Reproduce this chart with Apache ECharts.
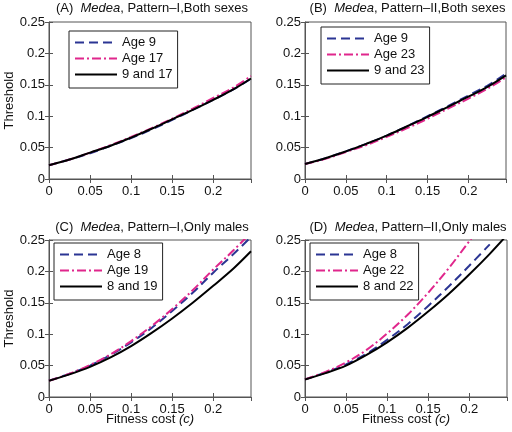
<!DOCTYPE html>
<html><head><meta charset="utf-8">
<script src="https://cdn.jsdelivr.net/npm/echarts@6/dist/echarts.min.js"></script>
<style>html,body{margin:0;padding:0;background:#fff}#c{width:512px;height:432px}</style>
</head><body><div id="c"></div>
<script>
// Fitness cost sample positions
var cost = [0, 0.025, 0.05, 0.075, 0.1, 0.125, 0.15, 0.175, 0.2, 0.225, 0.246];
var yTicks = [0, 0.05, 0.1, 0.15, 0.2, 0.25];
var xTicks = [0, 0.05, 0.1, 0.15, 0.2];

// Panel A: Medea, Pattern-I, Both sexes
var A_names = ['Age 9', 'Age 17', '9 and 17'];
var A_age9  = [0.022, 0.031, 0.041, 0.053, 0.065, 0.079, 0.094, 0.110, 0.126, 0.143, 0.160];
var A_age17 = [0.022, 0.031, 0.042, 0.054, 0.067, 0.081, 0.096, 0.112, 0.129, 0.146, 0.164];
var A_both  = [0.022, 0.031, 0.042, 0.053, 0.066, 0.080, 0.095, 0.110, 0.126, 0.143, 0.160];

// Panel B: Medea, Pattern-II, Both sexes
var B_names = ['Age 9', 'Age 23', '9 and 23'];
var B_age9  = [0.024, 0.033, 0.044, 0.056, 0.069, 0.084, 0.100, 0.116, 0.133, 0.150, 0.168];
var B_age23 = [0.024, 0.032, 0.043, 0.054, 0.067, 0.081, 0.096, 0.112, 0.128, 0.145, 0.162];
var B_both  = [0.024, 0.033, 0.044, 0.056, 0.069, 0.084, 0.099, 0.115, 0.131, 0.148, 0.165];

// Panel C: Medea, Pattern-I, Only males
var C_names = ['Age 8', 'Age 19', '8 and 19'];
var C_age8  = [0.026, 0.037, 0.050, 0.067, 0.087, 0.110, 0.137, 0.166, 0.198, 0.228, 0.255];
var C_age19 = [0.026, 0.037, 0.051, 0.068, 0.089, 0.113, 0.140, 0.170, 0.203, 0.234, 0.262];
var C_both  = [0.026, 0.036, 0.048, 0.063, 0.081, 0.102, 0.125, 0.150, 0.177, 0.205, 0.232];

// Panel D: Medea, Pattern-II, Only males
var D_names = ['Age 8', 'Age 22', '8 and 22'];
var D_age8  = [0.028, 0.039, 0.052, 0.069, 0.091, 0.116, 0.145, 0.176, 0.209, 0.243];
var D_age22 = [0.028, 0.040, 0.055, 0.075, 0.101, 0.131, 0.166, 0.205, 0.248, 0.292];
var D_both  = [0.028, 0.038, 0.050, 0.067, 0.087, 0.110, 0.136, 0.164, 0.195, 0.228, 0.258];

var panels = [
  {tag:'(A)', rest:', Pattern\u2013I,Both sexes', names:A_names, s:[A_age9, A_age17, A_both], xName:false, yName:true},
  {tag:'(B)', rest:', Pattern\u2013II,Both sexes', names:B_names, s:[B_age9, B_age23, B_both], xName:false, yName:false},
  {tag:'(C)', rest:', Pattern\u2013I,Only males', names:C_names, s:[C_age8, C_age19, C_both], xName:true, yName:true},
  {tag:'(D)', rest:', Pattern\u2013II,Only males', names:D_names, s:[D_age8, D_age22, D_both], xName:true, yName:false}
];

var grids = [
  {left:49, top:22, width:202, height:157},
  {left:305, top:22, width:201, height:157},
  {left:49, top:240, width:202, height:157},
  {left:305, top:240, width:202, height:157}
];
var legendPos = [[69,31],[321,27],[54,243],[310,243]];
var styles = [
  {color:'#2b3593', type:[9,5]},
  {color:'#e0268c', type:[9,3,2,3]},
  {color:'#000000', type:'solid'}
];

var FONT = 'Liberation Sans, Arial, Helvetica, sans-serif';
var xAxes = [], yAxes = [], series = [], legends = [], graphics = [];

function fmt(v){ return String(Math.round(v*1000)/1000); }

panels.forEach(function(p, i){
  var g = grids[i];
  g.show = true; g.borderColor = '#555'; g.borderWidth = 1; g.backgroundColor = 'transparent';
  xAxes.push({
    type:'value', gridIndex:i, min:0, max:0.246, interval:0.05, position:'bottom',
    axisLine:{show:true, lineStyle:{color:'#555'}},
    axisTick:{show:true, inside:true, length:4, lineStyle:{color:'#555'}},
    axisLabel:{color:'#111', fontSize:13, fontFamily:FONT, margin:6, showMaxLabel:false, formatter:fmt},
    splitLine:{show:false},
    name: p.xName ? 'Fitness cost {i|(c)}' : '',
    nameLocation:'middle', nameGap:16, nameMoveOverlap:false,
    nameTextStyle:{color:'#111', fontSize:13, fontFamily:FONT, rich:{i:{fontStyle:'italic', fontSize:13, fontFamily:FONT, color:'#111'}}}
  });
  xAxes.push({
    type:'value', gridIndex:i, min:0, max:0.246, interval:0.05, position:'top',
    axisLine:{show:false}, axisTick:{show:true, inside:true, length:4, lineStyle:{color:'#555'}},
    axisLabel:{show:false}, splitLine:{show:false}
  });
  yAxes.push({
    type:'value', gridIndex:i, min:0, max:0.25, interval:0.05, position:'left',
    axisLine:{show:true, lineStyle:{color:'#555'}},
    axisTick:{show:true, inside:true, length:4, lineStyle:{color:'#555'}},
    axisLabel:{color:'#111', fontSize:13, fontFamily:FONT, margin:4, formatter:fmt},
    splitLine:{show:false},
    name: p.yName ? 'Threshold' : '',
    nameLocation:'middle', nameGap:33,
    nameTextStyle:{color:'#111', fontSize:13, fontFamily:FONT}
  });
  yAxes.push({
    type:'value', gridIndex:i, min:0, max:0.25, interval:0.05, position:'right',
    axisLine:{show:false}, axisTick:{show:true, inside:true, length:4, lineStyle:{color:'#555'}},
    axisLabel:{show:false}, splitLine:{show:false}
  });
  p.s.forEach(function(vals, k){
    var data = vals.map(function(v, j){ return [cost[j], v]; });
    series.push({
      type:'line', id:'p'+i+'s'+k, name:p.names[k], xAxisIndex:2*i, yAxisIndex:2*i,
      data:data, smooth:0.35, symbol:'none', clip:true,
      lineStyle:{color:styles[k].color, width:2, type:styles[k].type},
      itemStyle:{color:styles[k].color},
      z: k===2 ? 3 : 2
    });
  });
  legends.push({
    data: p.names.map(function(n){ return {name:n}; }),
    orient:'vertical', left:legendPos[i][0], top:legendPos[i][1],
    itemWidth:42, itemHeight:14, itemGap:3, padding:[5,5,7,5],
    borderColor:'#222', borderWidth:1, backgroundColor:'#fff',
    selectedMode:false, textStyle:{color:'#111', fontSize:13, fontFamily:FONT},
    itemStyle:{opacity:0}
  });
  var cx = g.left + g.width/2 + 2;
  graphics.push({
    type:'text', x: cx, y: 8, z:10,
    style:{
      text:p.tag+'  {i|Medea}'+p.rest,
      rich:{i:{fontStyle:'italic', fontSize:13, fontFamily:FONT, fill:'#111'}},
      font:'13px '+FONT, fill:'#111', align:'center', verticalAlign:'middle'
    }
  });
});
graphics[2].y = 227; graphics[3].y = 227;

var chart = echarts.init(document.getElementById('c'), null, {renderer:'canvas'});
chart.setOption({
  animation:false,
  backgroundColor:'#fff',
  grid:grids, xAxis:xAxes, yAxis:yAxes, series:series, legend:legends,
  graphic:graphics
});
</script></body></html>
